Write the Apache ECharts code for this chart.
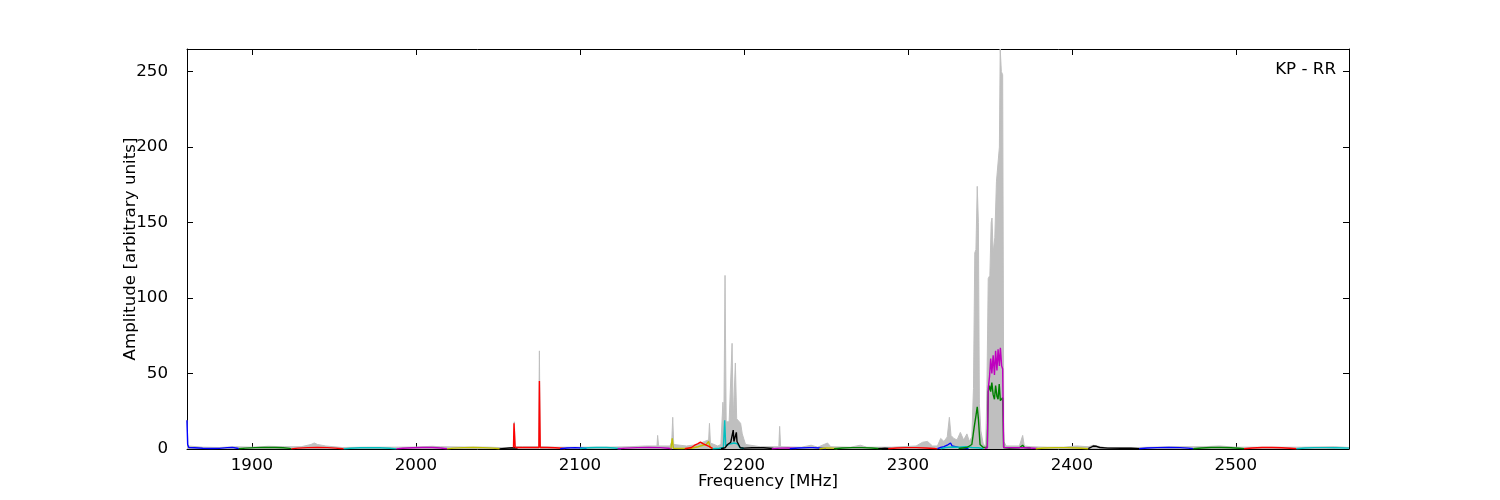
<!DOCTYPE html>
<html>
<head>
<meta charset="utf-8">
<script src="https://cdn.jsdelivr.net/npm/echarts@6/dist/echarts.min.js"></script>
<style>html,body{margin:0;padding:0;background:#fff}#chart{width:1500px;height:500px}</style>
</head>
<body>
<div id="chart"></div>
<script>
// ---------------- data ----------------
const xTicks = [1900, 2000, 2100, 2200, 2300, 2400, 2500];
const yTicks = [0, 50, 100, 150, 200, 250];
const panelLabel = 'KP - RR';

// max-hold envelope (grey)
const grayFreq = [1860.4,1861,1870,1880,1890,1900,1910,1920,1930,1936,1938,1940,1945,1955,1970,1985,2000,2010,2015,2030,2045,2055,2059.5,2060,2060.6,2065,2074.8,2075.3,2075.8,2085,2100,2115,2130,2140,2147,2147.4,2148,2155,2156,2156.6,2157.2,2165,2172,2176,2178.5,2179,2179.6,2184,2186,2187.2,2187.8,2188.5,2189.2,2191,2192.8,2193.5,2194.8,2195.6,2198,2199,2201,2210,2221.3,2221.8,2222.4,2235,2241,2245,2251,2253,2265,2271,2275,2290,2305,2309,2312,2315,2318,2320,2322,2324,2325.3,2326.3,2328,2330,2332,2334,2336,2337.5,2339,2340,2340.8,2341.5,2342.3,2343,2343.6,2344.5,2346,2347.5,2348.2,2349,2350,2350.8,2351.3,2352,2353,2354,2355,2355.8,2356.3,2357,2357.8,2358.5,2360,2368,2370,2371,2375,2385,2395,2403,2410,2413,2420,2440,2460,2480,2490,2500,2520,2540,2560,2569];
const grayAmp  = [19,2,1.2,1,1.5,1.2,1.8,1.5,1.5,3,4,3,2,1,1.2,1.2,1.3,1.8,1.5,1.3,1.2,0.8,0.8,18,1.5,1.5,1.5,65,1.5,1.2,1.2,1.2,1.5,2,2,9,2,2,5,21,3,2,3,5,6,17,4,2,3,31,20,115,18,18,70,20,57,20,17,10,3,1.5,1.5,15,1.5,1.2,2.5,1.2,4,1.5,1.2,2.5,1.2,1.2,2,4.5,5,2,2,7,5,8,21,9,7,6,11,6,10,5,8,40,130,132,174,150,30,12,3,2,40,113,115,150,153,130,140,177,176,200,265,250,248,5,2,2,9,2,1.5,1.2,1.2,2,1.5,2.5,1,1,1.5,1.5,2,1.2,1.2,1.2,1.5,1];

// sub-band spectra [frequency MHz, amplitude]
const sb01 = [[1860.4,19],[1860.8,3],[1861.5,1.0],[1865,0.8],[1870,0.5],[1875,0.3],[1880,0.4],[1885,0.9],[1888,1.1],[1891,0.5],[1892,0.2]];
const sb02 = [[1892,0.2],[1896,0.6],[1902,0.9],[1908,1.1],[1914,1.0],[1919,0.8],[1923,0.4],[1924,0.1]];
const sb03 = [[1924,0.1],[1928,0.6],[1934,0.9],[1940,1.0],[1946,0.9],[1951,0.6],[1955,0.2],[1956,0.1]];
const sb04 = [[1956,0.1],[1960,0.5],[1966,0.8],[1972,0.9],[1978,0.8],[1984,0.5],[1988,0.1]];
const sb05 = [[1988,0.1],[1992,0.5],[1998,0.8],[2004,1.0],[2010,1.0],[2015,0.7],[2019,0.2]];
const sb06 = [[2019,0.1],[2023,0.6],[2029,0.9],[2035,1.0],[2041,0.9],[2047,0.6],[2051,0.2]];
const sb07 = [[2051,0.1],[2054,0.4],[2057,0.7],[2060,0.8],[2062,0.7]];
const sb08 = [[2059.5,0.8],[2059.8,17],[2060.2,16],[2060.5,1.0],[2065,1.0],[2070,1.1],[2075,1.0],[2075.3,45],[2075.8,1.0],[2080,1.0],[2085,0.8],[2089,0.5],[2091,0.2]];
const sb09 = [[2088,0.2],[2092,0.7],[2097,0.9],[2101,0.7],[2104,0.3]];
const sb10 = [[2100,0.3],[2105,0.8],[2110,1.0],[2116,1.0],[2121,0.7],[2125,0.2]];
const sb11 = [[2123,0.2],[2128,0.6],[2135,0.9],[2142,1.0],[2149,0.9],[2154,0.5],[2156,0.2]];
const sb12 = [[2155.5,0.2],[2156.3,7],[2157,0.5],[2162,0.3],[2168,0.5],[2172,1.5],[2175,2.5],[2177,3],[2178.5,5],[2179.5,1],[2181,0.3]];
const sb13 = [[2164,0.2],[2168,1],[2170,2.5],[2172,3.5],[2173.5,4.5],[2175,3.5],[2177,2.5],[2179,1.5],[2181,0.3]];
const sb14 = [[2181,0.2],[2185,0.5],[2187.5,1],[2188.3,19],[2188.9,2],[2190,2.5],[2192,3.5],[2194,4],[2196,3.5],[2197.5,1],[2200,0.3]];
const sb15 = [[2186,0.2],[2188.5,0.8],[2190,3],[2192,4.5],[2193.2,5],[2193.5,12.5],[2193.9,5],[2195,5],[2195.4,11],[2195.8,5],[2197,5],[2197.8,0.8],[2200,0.6],[2205,0.8],[2212,0.8],[2218,0.3]];
const sb16 = [[2217,0.2],[2222,0.6],[2227,0.7],[2232,0.3]];
const sb17 = [[2228,0.2],[2233,0.7],[2240,0.9],[2241,1.8],[2242,0.9],[2246,0.7],[2250,0.2]];
const sb18 = [[2246,0.2],[2250,0.7],[2254,0.6],[2257,0.2]];
const sb19 = [[2255,0.2],[2260,0.7],[2266,0.9],[2272,0.9],[2278,0.7],[2284,0.2]];
const sb20 = [[2282,0.2],[2286,0.6],[2291,0.2]];
const sb21 = [[2288,0.2],[2293,0.7],[2299,0.9],[2305,0.9],[2311,0.7],[2316,0.3],[2318,0.1]];
const sb22 = [[2318,0.2],[2320,1],[2322,1.5],[2324,2.5],[2325,3.5],[2326,4],[2327,2],[2329,1.5],[2331,1],[2334,0.6],[2337,0.3]];
const sb23 = [[2320,0.2],[2323,1],[2327,1.3],[2331,1.2],[2335,1.5],[2339,1],[2343,0.8],[2346,0.3]];
const sb24 = [[2331,0.3],[2336,1],[2339,3],[2340.5,15],[2341.5,22],[2342.3,28],[2343,20],[2344,3],[2346,1],[2348.4,1],[2349,38],[2349.8,42],[2350.5,38],[2351.2,44],[2352,36],[2352.8,33],[2353.5,42],[2354.3,35],[2355,33],[2355.7,43],[2356.4,32],[2357.2,31],[2357.8,34],[2358.4,1],[2362,0.5],[2368,0.8],[2370,2.5],[2371,1],[2375,0.5]];
const sb25 = [[2347,0.5],[2348.5,0.8],[2349,40],[2349.8,48],[2350.5,60],[2351.2,50],[2352,62],[2352.8,49],[2353.5,65],[2354.3,52],[2355,66],[2355.8,55],[2356.4,67],[2357.2,55],[2357.8,53],[2358.4,1],[2365,0.8],[2372,0.8],[2379,0.3]];
const sb26 = [[2378,0.2],[2383,0.7],[2390,0.9],[2397,0.9],[2404,0.7],[2410,0.2]];
const sb27 = [[2410,0.2],[2411.5,1],[2413,2],[2415,1.8],[2417,1],[2422,0.6],[2430,0.5],[2436,0.6],[2441,0.2]];
const sb28 = [[2441,0.2],[2446,0.7],[2452,0.9],[2459,1.0],[2459.5,1.8],[2460,1.0],[2466,0.9],[2471,0.6],[2474,0.2]];
const sb29 = [[2474,0.2],[2479,0.7],[2485,1.0],[2491,1.0],[2497,0.8],[2502,0.5],[2505,0.2]];
const sb30 = [[2505,0.2],[2510,0.7],[2516,1.0],[2522,1.0],[2528,0.8],[2533,0.5],[2537,0.2]];
const sb31 = [[2537,0.2],[2542,0.7],[2548,0.9],[2555,0.9],[2561,0.8],[2566,0.7],[2569,0.6]];

// ---------------- styling / build ----------------
const subbands = [sb01,sb02,sb03,sb04,sb05,sb06,sb07,sb08,sb09,sb10,sb11,sb12,sb13,sb14,sb15,sb16,sb17,sb18,sb19,sb20,sb21,sb22,sb23,sb24,sb25,sb26,sb27,sb28,sb29,sb30,sb31];
const colorKeys = ['b','g','r','c','m','y','k','r','b','c','m','y','r','c','k','m','b','y','g','k','r','b','c','g','m','y','k','b','g','r','c'];
const mplColors = {b:'#0000ff', g:'#008000', r:'#ff0000', c:'#00bfbf', m:'#bf00bf', y:'#bfbf00', k:'#000000'};

const FONT = 'DejaVu Sans';
const FS = 16.7;
const chart = echarts.init(document.getElementById('chart'), null, {renderer: 'canvas'});

const xMin = 1860.4, xMax = 2569;
const plain = v => String(v);
const axisCommon = {
  axisLine: {show: true, onZero: false, lineStyle: {color: '#000', width: 1}},
  splitLine: {show: false}
};

const series = [{
  type: 'line',
  data: grayFreq.map((f, i) => [f, grayAmp[i]]),
  showSymbol: false,
  symbol: 'none',
  lineStyle: {color: '#bfbfbf', width: 1},
  areaStyle: {color: '#bfbfbf', opacity: 1},
  itemStyle: {color: '#bfbfbf'},
  silent: true,
  z: 2
}];
subbands.forEach((d, i) => {
  series.push({
    type: 'line',
    data: d,
    showSymbol: false,
    symbol: 'none',
    lineStyle: {color: mplColors[colorKeys[i]], width: 1.4},
    itemStyle: {color: mplColors[colorKeys[i]]},
    silent: true,
    z: 3
  });
});

chart.setOption({
  animation: false,
  backgroundColor: '#fff',
  grid: {left: 187, right: 151, top: 49, bottom: 51, containLabel: false},
  xAxis: [
    Object.assign({}, axisCommon, {
      type: 'value', min: xMin, max: xMax, position: 'bottom',
      axisTick: {show: true, inside: true, length: 6, customValues: xTicks, lineStyle: {color: '#000'}},
      axisLabel: {show: true, customValues: xTicks, formatter: plain, color: '#000', fontFamily: FONT, fontSize: FS, margin: 8},
      name: 'Frequency [MHz]', nameLocation: 'middle', nameGap: 24, nameMoveOverlap: false,
      nameTextStyle: {color: '#000', fontFamily: FONT, fontSize: FS}
    }),
    Object.assign({}, axisCommon, {
      type: 'value', min: xMin, max: xMax, position: 'top',
      axisTick: {show: true, inside: true, length: 6, customValues: xTicks, lineStyle: {color: '#000'}},
      axisLabel: {show: false}
    })
  ],
  yAxis: [
    Object.assign({}, axisCommon, {
      type: 'value', min: 0, max: 265, position: 'left',
      axisTick: {show: true, inside: true, length: 6, customValues: yTicks, lineStyle: {color: '#000'}},
      axisLabel: {show: true, customValues: yTicks, formatter: plain, color: '#000', fontFamily: FONT, fontSize: FS, margin: 19},
      name: 'Amplitude [arbitrary units]', nameLocation: 'middle', nameGap: 48, nameRotate: 90, nameMoveOverlap: false,
      nameTextStyle: {color: '#000', fontFamily: FONT, fontSize: FS}
    }),
    Object.assign({}, axisCommon, {
      type: 'value', min: 0, max: 265, position: 'right',
      axisTick: {show: true, inside: true, length: 6, customValues: yTicks, lineStyle: {color: '#000'}},
      axisLabel: {show: false}
    })
  ],
  graphic: [{
    type: 'text', right: 164, top: 61, z: 10,
    style: {text: panelLabel, fill: '#000', font: FS + 'px "' + FONT + '"'}
  }],
  series: series
});
</script>
</body>
</html>
